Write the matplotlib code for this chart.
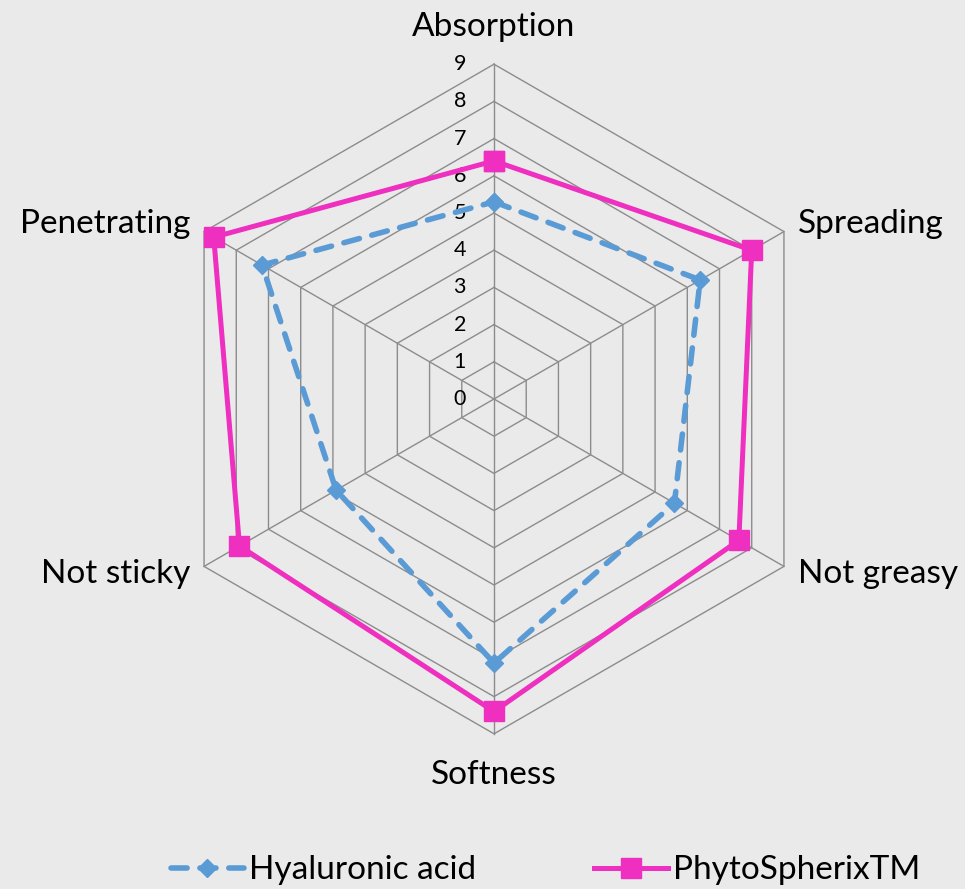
import numpy as np
import matplotlib.pyplot as plt

# Data
categories = ['Absorption', 'Spreading', 'Not greasy', 'Softness', 'Not sticky', 'Penetrating']
hyaluronic = [5.3, 6.4, 5.6, 7.1, 4.9, 7.2]
phyto = [6.4, 8.0, 7.6, 8.4, 7.9, 8.7]
ticks = list(range(0, 10))
series_names = ['Hyaluronic acid', 'PhytoSpherixTM']

BG = '#eaeaea'
GRID = '#8c8c8c'
BLUE = '#5b9bd5'
PINK = '#ee2fbf'

plt.rcParams['font.family'] = ['Lato', 'DejaVu Sans']

W, H = 965, 889
cx, cy, unit = 494, 399, 37.2

fig = plt.figure(figsize=(W / 100, H / 100), dpi=100, facecolor=BG)
ax = fig.add_axes([0, 0, 1, 1])
ax.set_facecolor(BG)
ax.set_xlim(-cx / unit, (W - cx) / unit)
ax.set_ylim(-(H - cy) / unit, cy / unit)
ax.set_aspect('equal')
ax.axis('off')

n = len(categories)
ang = np.pi / 2 - np.arange(n) * 2 * np.pi / n


def xy(vals):
    v = np.asarray(vals, dtype=float)
    x = v * np.cos(ang)
    y = v * np.sin(ang)
    return np.append(x, x[0]), np.append(y, y[0])


# grid hexagons
for t in ticks[1:]:
    gx, gy = xy([t] * n)
    ax.plot(gx, gy, color=GRID, lw=1.0, zorder=1)
# spokes
rmax = max(ticks)
for a in ang:
    ax.plot([0, rmax * np.cos(a)], [0, rmax * np.sin(a)], color=GRID, lw=1.0, zorder=1)

# tick labels
for t in ticks:
    ax.text(-0.92, t, str(t), ha='center', va='center', fontsize=15.5, color='black')

# series
hx, hy = xy(hyaluronic)
ax.plot(hx, hy, color=BLUE, lw=4.0, ls=(0, (2.9, 2.3)), marker='D', ms=9,
        mfc=BLUE, mec=BLUE, zorder=3, label=series_names[0], dash_capstyle='round')
px, py = xy(phyto)
ax.plot(px, py, color=PINK, lw=3.6, marker='s', ms=14,
        mfc=PINK, mec=PINK, zorder=4, label=series_names[1])

# category labels
for c, a in zip(categories, ang):
    c_ = np.cos(a)
    if abs(c_) < 0.01:
        ha = 'center'
        x = 0
        y = (rmax + 1.0) * np.sign(np.sin(a)) - (0.12 if np.sin(a) < 0 else 0)
    else:
        ha = 'left' if c_ > 0 else 'right'
        x = rmax * c_ + 0.38 * np.sign(c_)
        y = rmax * np.sin(a) + 0.2 * np.sign(np.sin(a))
    ax.text(x, y, c, ha=ha, va='center', fontsize=24, color='black')

leg = ax.legend(loc='center', bbox_to_anchor=(0.565, 0.021), ncol=2, frameon=False,
                fontsize=24, handlelength=2.2, handletextpad=0.15, columnspacing=3.55,
                borderpad=0)

fig.savefig('out.png', dpi=100, facecolor=BG)
